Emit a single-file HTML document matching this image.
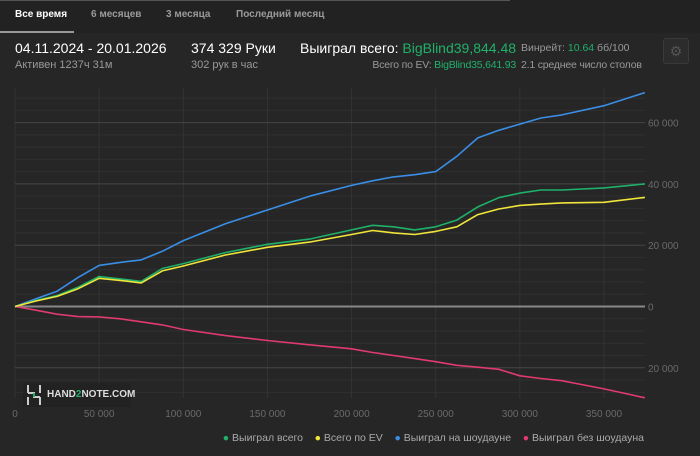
<!DOCTYPE html>
<html><head><meta charset="utf-8">
<style>
body{margin:0;width:700px;height:456px;background:#262626;font-family:"Liberation Sans",sans-serif;overflow:hidden;position:relative;color:#ddd}
.tabs{position:absolute;left:0;top:0;width:700px;height:33px;background:#222}
.tab{position:absolute;top:9px;font-size:10px;font-weight:bold;color:#9a9a9a}
.abs{position:absolute;white-space:nowrap}
.g{color:#1fb16a}
</style></head><body>
<div class="tabs">
 <div style="position:absolute;left:0;top:0;width:510px;height:1px;background:#555"></div>
 <div class="tab" style="left:15px;color:#fff">Все время</div>
 <div class="tab" style="left:91px">6 месяцев</div>
 <div class="tab" style="left:166px">3 месяца</div>
 <div class="tab" style="left:236px">Последний месяц</div>
 <div style="position:absolute;left:0;top:31px;width:74px;height:2px;background:#999"></div>
</div>
<div class="abs" style="left:15px;top:40px;font-size:14px;color:#fff">04.11.2024 - 20.01.2026</div>
<div class="abs" style="left:15px;top:59px;font-size:11px;color:#999">Активен 1237ч 31м</div>
<div class="abs" style="left:191px;top:40px;font-size:14px;color:#fff">374 329 Руки</div>
<div class="abs" style="left:191px;top:59px;font-size:11px;color:#999">302 рук в час</div>
<div class="abs" style="left:300px;top:40px;font-size:14px;color:#fff">Выиграл всего: <span class="g">BigBlind39,844.48</span></div>
<div class="abs" style="right:184px;top:59px;font-size:10.5px;color:#999;letter-spacing:-0.2px">Всего по EV: <span class="g">BigBlind35,641.93</span></div>
<div class="abs" style="left:521px;top:42px;font-size:10.5px;color:#999">Винрейт: <span class="g">10.64</span> бб/100</div>
<div class="abs" style="left:521px;top:59px;font-size:10.5px;color:#999;letter-spacing:-0.2px">2.1 среднее число столов</div>
<div class="abs" style="left:663px;top:38px;width:24px;height:24px;border:1px solid #3a3a3a;border-radius:3px;background:#2c2c2c;color:#555;font-size:14px;text-align:center;line-height:24px">⚙</div>

<svg id="chart" width="700" height="456" style="position:absolute;left:0;top:0"></svg>

<div class="abs" style="left:23px;top:383px;width:108px;height:24px;background:#222">
 <svg width="20" height="22" style="position:absolute;left:2px;top:1px"><path d="M3 1v8M3 9h6v4h6M15 13v8M3 13v8M15 1v8" stroke="#ccc" stroke-width="2" fill="none"/><path d="M9 9v4" stroke="#1fb16a" stroke-width="2"/></svg>
 <span style="position:absolute;left:24px;top:6px;font-size:10px;font-weight:bold;color:#ddd">HAND<span class="g">2</span>NOTE.COM</span>
</div>

<div class="abs" style="right:56px;top:432px;font-size:10.5px;color:#aaa">
 <span><span style="color:#1fb16a">●</span> Выиграл всего</span>&nbsp;&nbsp;&nbsp;
 <span><span style="color:#f0e53a">●</span> Всего по EV</span>&nbsp;&nbsp;&nbsp;
 <span><span style="color:#3a8ee6">●</span> Выиграл на шоудауне</span>&nbsp;&nbsp;&nbsp;
 <span><span style="color:#e03a6e">●</span> Выиграл без шоудауна</span>
</div>

<script>
const hands=[0,12500,25000,37500,50000,62500,75000,87500,100000,125000,150000,175000,200000,212500,225000,237500,250000,262500,275000,287500,300000,312500,325000,350000,374329];
const wonTotal=[0,2000,3600,6300,9800,9000,8200,12400,14000,17600,20300,22000,25000,26500,26000,25000,26000,28200,32500,35500,37000,38000,38000,38700,40000];
const evTotal=[0,1800,3300,5800,9200,8500,7700,11600,13200,16800,19300,21000,23500,24800,24000,23500,24500,26000,30000,31800,33000,33400,33800,34000,35600];
const showdown=[0,2500,5000,9500,13400,14400,15200,18000,21500,27000,31500,36000,39500,41000,42300,43000,44000,49000,55000,57500,59500,61500,62500,65500,69800];
const noShowdown=[0,-1200,-2500,-3300,-3400,-4000,-5000,-6000,-7500,-9500,-11100,-12500,-13800,-15000,-16000,-17000,-18000,-19200,-19800,-20500,-22600,-23500,-24200,-26900,-29800];
const xTicks=[0,50000,100000,150000,200000,250000,300000,350000];
const yTicks=[-20000,0,20000,40000,60000];
const xLabels=["0","50 000","100 000","150 000","200 000","250 000","300 000","350 000"];
const yLabels=["20 000","0","20 000","40 000","60 000"];

const svg=document.getElementById('chart');
const NS='http://www.w3.org/2000/svg';
const X0=15,X1=645,Y0=88,Y1=398;
const xs=v=>15+v*(589/350000);
const ys=v=>306.5-v*(61.3/20000);
function mk(t,a){const e=document.createElementNS(NS,t);for(const k in a)e.setAttribute(k,a[k]);svg.appendChild(e);return e;}
for(let v=-28000;v<=72000;v+=4000){const y=ys(v);if(y<Y0||y>Y1)continue;
 const l=mk('line',{x1:X0,x2:X1,y1:y,y2:y,stroke:'#303030','stroke-width':1});
 
 }
xTicks.forEach((v,i)=>{const x=xs(v);
 const l=mk('line',{x1:x,x2:x,y1:Y0,y2:Y1,stroke:'#333','stroke-width':1});
 
 
 const t=mk('text',{x:x,y:417,'text-anchor':'middle','font-size':10,fill:'#6a6a6a','font-family':'Liberation Sans, sans-serif'});
 t.textContent=xLabels[i];
 
 });
yTicks.forEach((v,i)=>{const y=ys(v);
 const l=mk('line',{x1:X0,x2:X1,y1:y,y2:y,stroke:v===0?'#888':'#444','stroke-width':v===0?2:1});
 
 
 const t=mk('text',{x:648,y:y+4,'font-size':10,fill:'#6a6a6a','font-family':'Liberation Sans, sans-serif'});
 t.textContent=yLabels[i];
 
 });
function series(arr,color,name){
 const d=arr.map((v,i)=>(i?'L':'M')+xs(hands[i]).toFixed(1)+' '+ys(v).toFixed(1)).join(' ');
 const p=mk('path',{d:d,stroke:color,'stroke-width':1.6,fill:'none','stroke-linejoin':'round'});
 
 }
series(noShowdown,'#e03a6e','line-non-showdown');
series(showdown,'#3a8ee6','line-showdown');
series(wonTotal,'#1fb16a','line-won-total');
series(evTotal,'#f0e53a','line-ev');
</script>
</body></html>
